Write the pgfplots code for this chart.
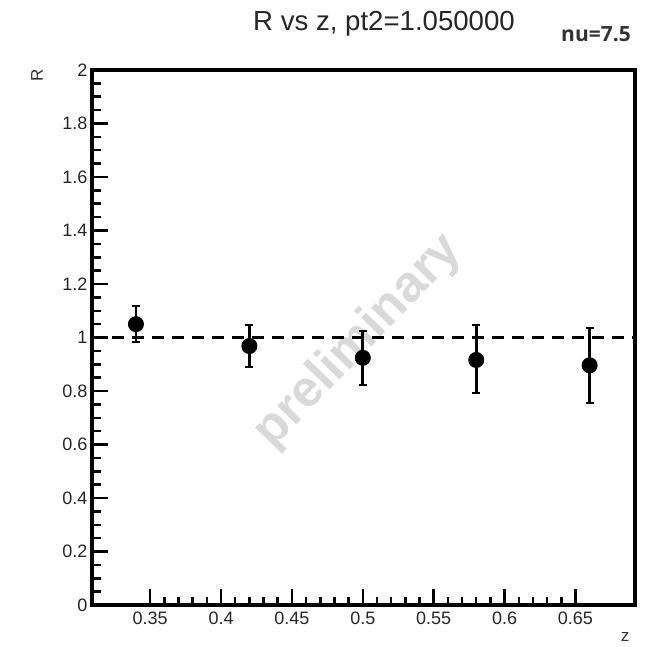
\documentclass[border=0pt]{standalone}
\usepackage{pgfplots}
\pgfplotsset{compat=1.18}
\usepackage{fontspec}
\setmainfont{Liberation Sans}
\newfontfamily\nufont{Open Sans}
\begin{document}
\begin{tikzpicture}[x=1pt,y=1pt]
\path[use as bounding box] (0,0) rectangle (664,646);
\begin{axis}[
  at={(92pt,41pt)}, anchor=south west,
  width=543pt, height=535pt, scale only axis,
  xmin=0.309, xmax=0.692, ymin=0, ymax=2,
  xtick={0.35,0.4,0.45,0.5,0.55,0.6,0.65},
  ytick={0,0.2,0.4,0.6,0.8,1,1.2,1.4,1.6,1.8,2},
  minor x tick num=4, minor y tick num=3,
  tick align=inside, xtick pos=bottom, ytick pos=left,
  major tick length=16pt, minor tick length=8.5pt,
  tick style={line width=2.5pt, black, line cap=butt},
  /pgf/number format/assume math mode=true,
  ticklabel style={font=\fontsize{18}{20}\selectfont, color={black!85}},
  x tick label style={/pgf/number format/fixed, /pgf/number format/precision=2, yshift=-3pt},
  y tick label style={/pgf/number format/fixed, /pgf/number format/precision=1, xshift=-1pt},
  clip=false,
]
\node[rotate=46, text=black!15, font=\fontsize{51}{53}\selectfont\bfseries] at (axis cs:0.497,0.985) {preliminary};
\addplot[black, line width=2.6pt, line cap=butt, dash pattern=on 12pt off 8pt] coordinates {(0.309,1) (0.692,1)};
\addplot[black, only marks, mark=*, mark size=7.5pt, line width=1pt,
  error bars/.cd, y dir=both, y explicit,
  error bar style={line width=2.6pt, black, line cap=butt},
  error mark options={mark size=4pt, line width=2pt, black, rotate=90}]
coordinates {
  (0.34,1.050) += (0,0.069) -= (0,0.067)
  (0.42,0.968) += (0,0.080) -= (0,0.079)
  (0.50,0.924) += (0,0.101) -= (0,0.102)
  (0.58,0.916) += (0,0.129) -= (0,0.125)
  (0.66,0.896) += (0,0.140) -= (0,0.139)
};
\draw[line width=3.4pt, black] (rel axis cs:0,0) rectangle (rel axis cs:1,1);
\end{axis}
\node[font=\fontsize{27.6}{30}\selectfont, text=black!85] at (384,622) {R vs z, pt2=1.050000};
\node[font=\nufont\bfseries\fontsize{21}{23}\selectfont, text=black!80] at (596,612) {nu=7.5};
\node[rotate=90, font=\fontsize{17}{19}\selectfont, text=black!80] at (37,571) {R};
\node[font=\fontsize{17}{19}\selectfont, text=black!80] at (625,9) {z};
\end{tikzpicture}
\end{document}
